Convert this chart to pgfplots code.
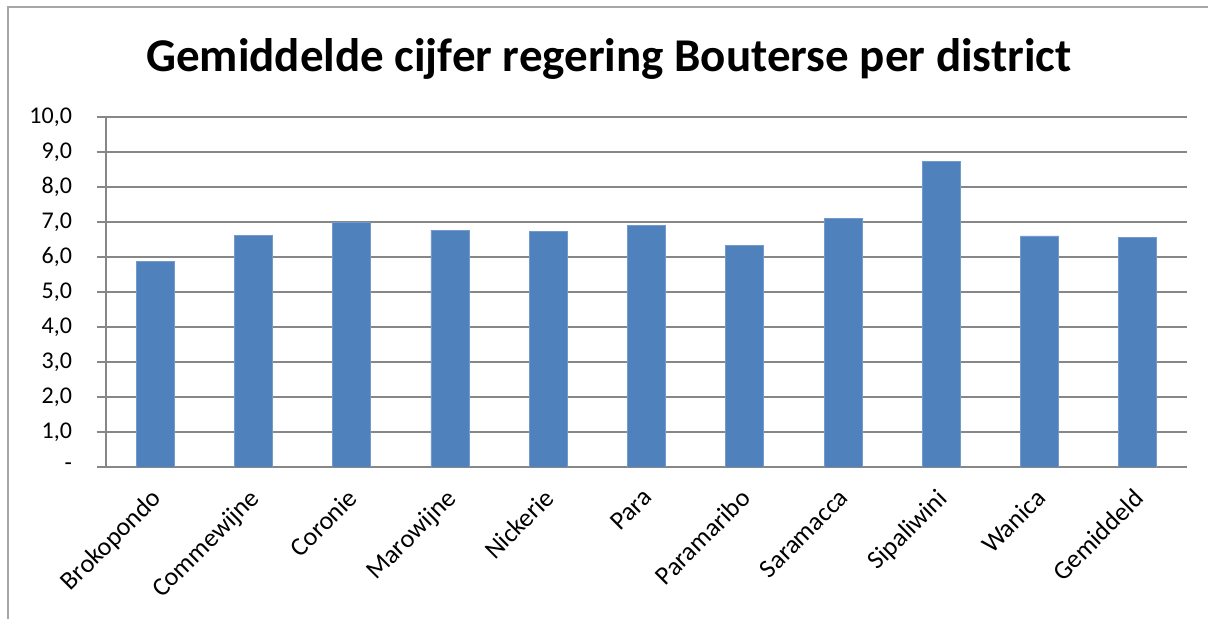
\documentclass[border=0pt]{standalone}
\usepackage{pgfplots}
\pgfplotsset{compat=1.18}
\usepackage{fontspec}
\setmainfont{Carlito}
\definecolor{barblue}{HTML}{4F81BD}
\definecolor{gridgray}{HTML}{878787}
\definecolor{framegray}{HTML}{A6A6A6}
\begin{document}
\begin{tikzpicture}
\path[use as bounding box] (0,0) rectangle (604pt,309.5pt);
\draw[framegray, line width=1pt] (4pt,0) -- (4pt,306pt) -- (604pt,306pt);
\node[font=\fontsize{23.5}{28}\selectfont\bfseries] at (304.5pt,280pt) {Gemiddelde cijfer regering Bouterse per district};
\begin{axis}[
  at={(53pt,76pt)}, anchor=south west,
  scale only axis, width=540.5pt, height=175pt,
  xmin=-0.5, xmax=10.5, ymin=0, ymax=10,
  axis x line*=bottom, axis y line*=left,
  axis line style={gridgray, line width=0.8pt, -},
  ytick={0,1,...,10},
  yticklabels={-,{1,0},{2,0},{3,0},{4,0},{5,0},{6,0},{7,0},{8,0},{9,0},{10,0}},
  ymajorgrids, grid style={gridgray, line width=0.8pt},
  major tick length=4.5pt,
  tick align=outside,
  tick style={gridgray, line width=0.8pt},
  ytick style={gridgray, line width=0.8pt},
  xtick={0,...,10},
  xticklabels={Brokopondo,Commewijne,Coronie,Marowijne,Nickerie,Para,Paramaribo,Saramacca,Sipaliwini,Wanica,Gemiddeld},
  x tick style={draw=none},
  minor xtick={-0.5,0.5,...,10.5},
  minor tick length=4.5pt,
  minor x tick style={gridgray, line width=0.8pt},
  x tick label style={rotate=45, anchor=north east, font=\fontsize{13}{15}\selectfont, xshift=-2.4pt, yshift=1.4pt},
  y tick label style={font=\fontsize{12}{14}\selectfont, xshift=-9pt},
  ytick pos=left,
]
\addplot[ybar, bar width=19pt, fill=barblue, draw=barblue!80!white] coordinates {
(0,5.88) (1,6.61) (2,6.98) (3,6.77) (4,6.72) (5,6.89) (6,6.32) (7,7.11) (8,8.73) (9,6.60) (10,6.55)
};
\end{axis}
\end{tikzpicture}
\end{document}
